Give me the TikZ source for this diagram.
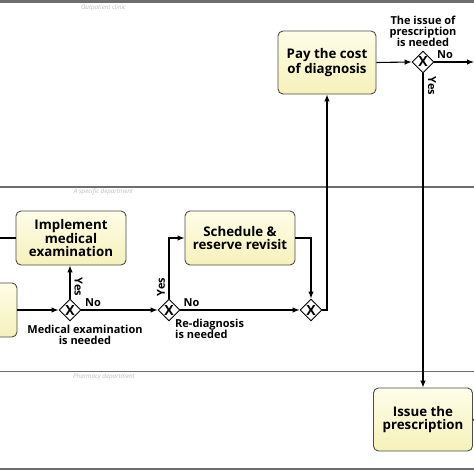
\documentclass[tikz,border=0pt]{standalone}
\usepackage{fontspec}
\setmainfont{Open Sans}
\usetikzlibrary{shapes.geometric,arrows.meta}
\definecolor{boxtop}{RGB}{254,253,232}
\definecolor{boxbot}{RGB}{246,241,186}
\definecolor{lanegray}{RGB}{110,110,110}
\tikzset{
  task/.style={draw=black!70, line width=0.9pt, rounded corners=5pt, top color=boxtop, bottom color=boxbot,
    align=center, font=\fontsize{13.3}{13}\selectfont\bfseries, inner sep=0pt},
  gw/.style={diamond, draw=black, line width=0.9pt, fill=white, minimum width=22pt, minimum height=22pt,
    inner sep=0pt, font=\fontsize{14}{14}\selectfont\bfseries},
  lbl/.style={font=\fontsize{11}{11}\selectfont\bfseries, align=center, inner sep=0pt},
  arr/.style={-{Latex[length=7pt,width=5.5pt]}, line width=1.1pt},
  ln/.style={line width=1.1pt},
  lane/.style={draw=lanegray, line width=1.3pt},
  lanelbl/.style={font=\fontsize{6.2}{6.5}\selectfont\itshape, text=black!25, inner sep=0pt}
}
\begin{document}
\begin{tikzpicture}[x=1pt,y=-1pt]
\clip (0,0) rectangle (474,474);
\fill[white] (0,0) rectangle (474,474);
% lanes
\fill[lanegray] (0,0) rectangle (474,3);
\draw[lane] (0,187) -- (474,187);
\draw[lane] (0,371.5) -- (474,371.5);
\draw[lane] (0,469) -- (474,469);
\node[lanelbl] (l1) at (103.5,8) {Outpatient clinic};
\node[lanelbl] (l2) at (103.5,192) {A specific department};
\node[lanelbl] (l3) at (104,377) {Pharmacy department};
% tasks
\node[task, minimum width=98pt, minimum height=63pt] (pay) at (327,62.5) {Pay the cost\\of diagnosis};
\node[task, minimum width=110pt, minimum height=54pt] (impl) at (71,238) {Implement\\medical\\examination};
\node[task, minimum width=110pt, minimum height=54pt] (sched) at (240,238) {Schedule \&\\reserve revisit};
\node[task, minimum width=74pt, minimum height=54pt] (lb) at (-20,310) {};
\node[task, minimum width=99pt, minimum height=63pt] (issue) at (423,419.5) {Issue the\\prescription};
% gateways
\node[gw] (g1) at (70,310) {X};
\node[gw] (g2) at (169,310) {X};
\node[gw] (g3) at (311,310) {X};
\node[gw] (g4) at (423,62) {X};
% free ends
\coordinate (inL) at (0,238);
\coordinate (outR) at (474,62);
\coordinate (outI) at (474,420);
% connectors
\draw[ln] (inL) -- (impl.west);
\draw[arr] (lb.east) -- (g1.west);
\draw[arr] (g1.north) -- (g1.north |- impl.south);
\draw[arr] (g1.east) -- (g2.west);
\draw[arr] (g2.north) |- (sched.west);
\draw[arr] (g2.east) -- (g3.west);
\draw[arr] (sched.east) -| (g3.north);
\draw[arr] (g3.east) -| (pay.south);
\draw[arr] (pay.east) -- (g4.west);
\draw[arr] (g4.east) -- (outR);
\draw[arr] (g4.south) -- (issue.north);
\draw[ln] (issue.east) -- (outI);
% labels
\node[lbl] (t4) at (423,31.5) {The issue of\\prescription\\is needed};
\node[lbl] (n4) at (445,54.5) {No};
\node[lbl, rotate=-90] (y4) at (432,86) {Yes};
\node[lbl, rotate=-90] (y1) at (78.5,287) {Yes};
\node[lbl] (n1) at (93,302.5) {No};
\node[lbl] (t1) at (85,334.5) {Medical examination\\is needed};
\node[lbl, rotate=90] (y2) at (161,287) {Yes};
\node[lbl] (n2) at (191.5,303) {No};
\node[lbl, align=left, anchor=west] (t2) at (175,329) {Re-diagnosis\\is needed};
\end{tikzpicture}
\end{document}
